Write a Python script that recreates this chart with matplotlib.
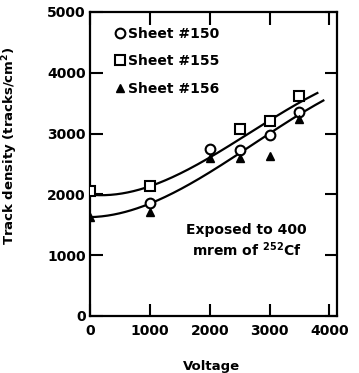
import numpy as np
import matplotlib
matplotlib.use("Agg")
import matplotlib.pyplot as plt

plt.rcParams['font.family'] = ['DejaVu Sans']
plt.rcParams['font.weight'] = 'bold'
plt.rcParams['mathtext.default'] = 'bf'

# Measured track densities (tracks/cm^2) vs. voltage
voltage = [0, 1000, 2000, 2500, 3000, 3500]
sheet_150 = [None, 1860, 2750, 2730, 2980, 3360]
sheet_155 = [2050, 2140, None, 3080, 3210, 3620]
sheet_156 = [1620, 1710, 2600, 2600, 2630, 3240]

# Hand-drawn trend curves (anchor points)
upper_x = [0, 500, 1000, 1500, 2000, 2500, 3000, 3500, 3800]
upper_y = [2000, 2010, 2110, 2340, 2630, 2920, 3200, 3480, 3690]
lower_x = [0, 500, 1000, 1500, 2000, 2500, 3000, 3500, 3900]
lower_y = [1640, 1690, 1790, 2080, 2430, 2700, 2960, 3270, 3580]

x_ticks = [0, 1000, 2000, 3000, 4000]
y_ticks = [0, 1000, 2000, 3000, 4000, 5000]


def smooth(xs, ys, deg=3):
    c = np.polyfit(xs, ys, deg)
    xx = np.linspace(xs[0], xs[-1], 200)
    return xx, np.polyval(c, xx)


def pts(xs, ys):
    m = [(a, b) for a, b in zip(xs, ys) if b is not None]
    return [a for a, _ in m], [b for _, b in m]


fig = plt.figure(figsize=(3.59, 3.73), dpi=100)
ax = fig.add_axes([0.251, 0.153, 0.688, 0.815])

for xs, ys in [(upper_x, upper_y), (lower_x, lower_y)]:
    xx, yy = smooth(xs, ys)
    ax.plot(xx, yy, color='black', lw=1.6, zorder=2)

x1, y1 = pts(voltage, sheet_150)
x2, y2 = pts(voltage, sheet_155)
x3, y3 = pts(voltage, sheet_156)
ax.plot(x1, y1, 'o', ms=7, mfc='white', mec='black', mew=1.5, ls='none',
        label='Sheet #150', zorder=3)
ax.plot(x2, y2, 's', ms=6.5, mfc='white', mec='black', mew=1.5, ls='none',
        label='Sheet #155', zorder=3)
ax.plot(x3, y3, '^', ms=6, mfc='black', mec='black', mew=1, ls='none',
        label='Sheet #156', zorder=4)

ax.set_xlim(0, 4130)
ax.set_ylim(0, 5000)
ax.set_xticks(x_ticks)
ax.set_yticks(y_ticks)
ax.tick_params(direction='in', top=True, right=True, length=9, width=1.5,
               labelsize=10)
ax.tick_params(axis='x', pad=6)
ax.tick_params(axis='y', pad=3)
for s in ax.spines.values():
    s.set_linewidth(1.6)

ax.set_xlabel('Voltage', fontsize=9.5, fontweight='bold')
ax.set_ylabel('Track density (tracks/cm$^2$)', fontsize=9.5, fontweight='bold')
ax.xaxis.set_label_coords(0.49, -0.145)
ax.yaxis.set_label_coords(-0.283, 0.56)

ax.legend(loc='upper left', bbox_to_anchor=(0.097, 0.95), frameon=False,
          handlelength=0.8, handletextpad=0.2, labelspacing=0.95,
          borderpad=0, borderaxespad=0, prop={'size': 10, 'weight': 'bold'})

ax.text(2620, 1230, 'Exposed to 400\nmrem of $^{252}$Cf', ha='center',
        va='center', multialignment='center', fontsize=10, fontweight='bold',
        linespacing=1.2)

fig.savefig('out.png', dpi=100)
